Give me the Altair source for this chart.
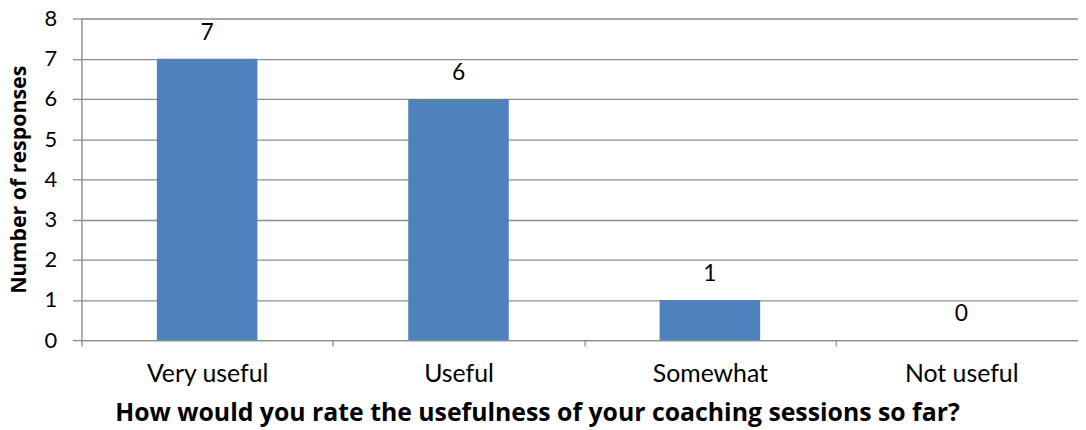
import altair as alt
import pandas as pd

categories = ["Very useful", "Useful", "Somewhat", "Not useful"]
responses = [7, 6, 1, 0]

df = pd.DataFrame({"category": categories, "responses": responses})

FONT = "Lato"
TFONT = "Open Sans"
GRID = "#8C8C8C"

x_enc = alt.X(
    "category:N",
    sort=categories,
    scale=alt.Scale(range=[0, 1013], paddingInner=0, paddingOuter=0),
    axis=alt.Axis(
        title="How would you rate the usefulness of your coaching sessions so far?",
        titleFont=TFONT, titleFontSize=25, titleFontWeight="bold", titleColor="black",
        titleX=459, titleY=81, titleAlign="center", titleBaseline="alphabetic",
        labelFont=FONT, labelFontSize=25, labelColor="black", labelAngle=0,
        labelBaseline="alphabetic",
        labelPadding=36, tickSize=6, tickBand="extent",
        tickColor=GRID, domainColor=GRID, tickWidth=1.3, domainWidth=1.3,
        grid=False,
    ),
)

y_enc = alt.Y(
    "responses:Q",
    scale=alt.Scale(domain=[0, 8], nice=False),
    axis=alt.Axis(
        title="Number of responses",
        titleFont=TFONT, titleFontSize=21.5, titleFontWeight="bold", titleColor="black",
        titleX=-62, titleY=162, titleAlign="center", titleBaseline="middle",
        labelFont=FONT, labelFontSize=22, labelColor="black",
        labelPadding=16, tickSize=9, values=[0, 1, 2, 3, 4, 5, 6, 7, 8],
        labelOverlap=False,
        tickColor=GRID, domainColor=GRID, gridColor=GRID,
        tickWidth=1.3, domainWidth=1.3, gridWidth=1.3,
        grid=True,
    ),
)

bars = alt.Chart(df).mark_bar(color="#4F81BD", width=alt.RelativeBandSize(0.4)).encode(
    x=x_enc, y=y_enc
)

labels = alt.Chart(df).mark_text(
    font=FONT, fontSize=23, color="black", baseline="alphabetic", dy=-19
).encode(
    x=x_enc,
    y=y_enc,
    text=alt.Text("responses:Q"),
)

chart = (
    alt.layer(bars, labels)
    .properties(
        width=1004,
        height=324,
        autosize=alt.AutoSizeParams(type="none"),
        padding={"left": 74, "top": 9, "right": 0, "bottom": 89},
    )
    .configure_view(stroke=None)
    .configure(background="white")
)

chart.save("out.html", embed_options={"renderer": "svg", "actions": False})
